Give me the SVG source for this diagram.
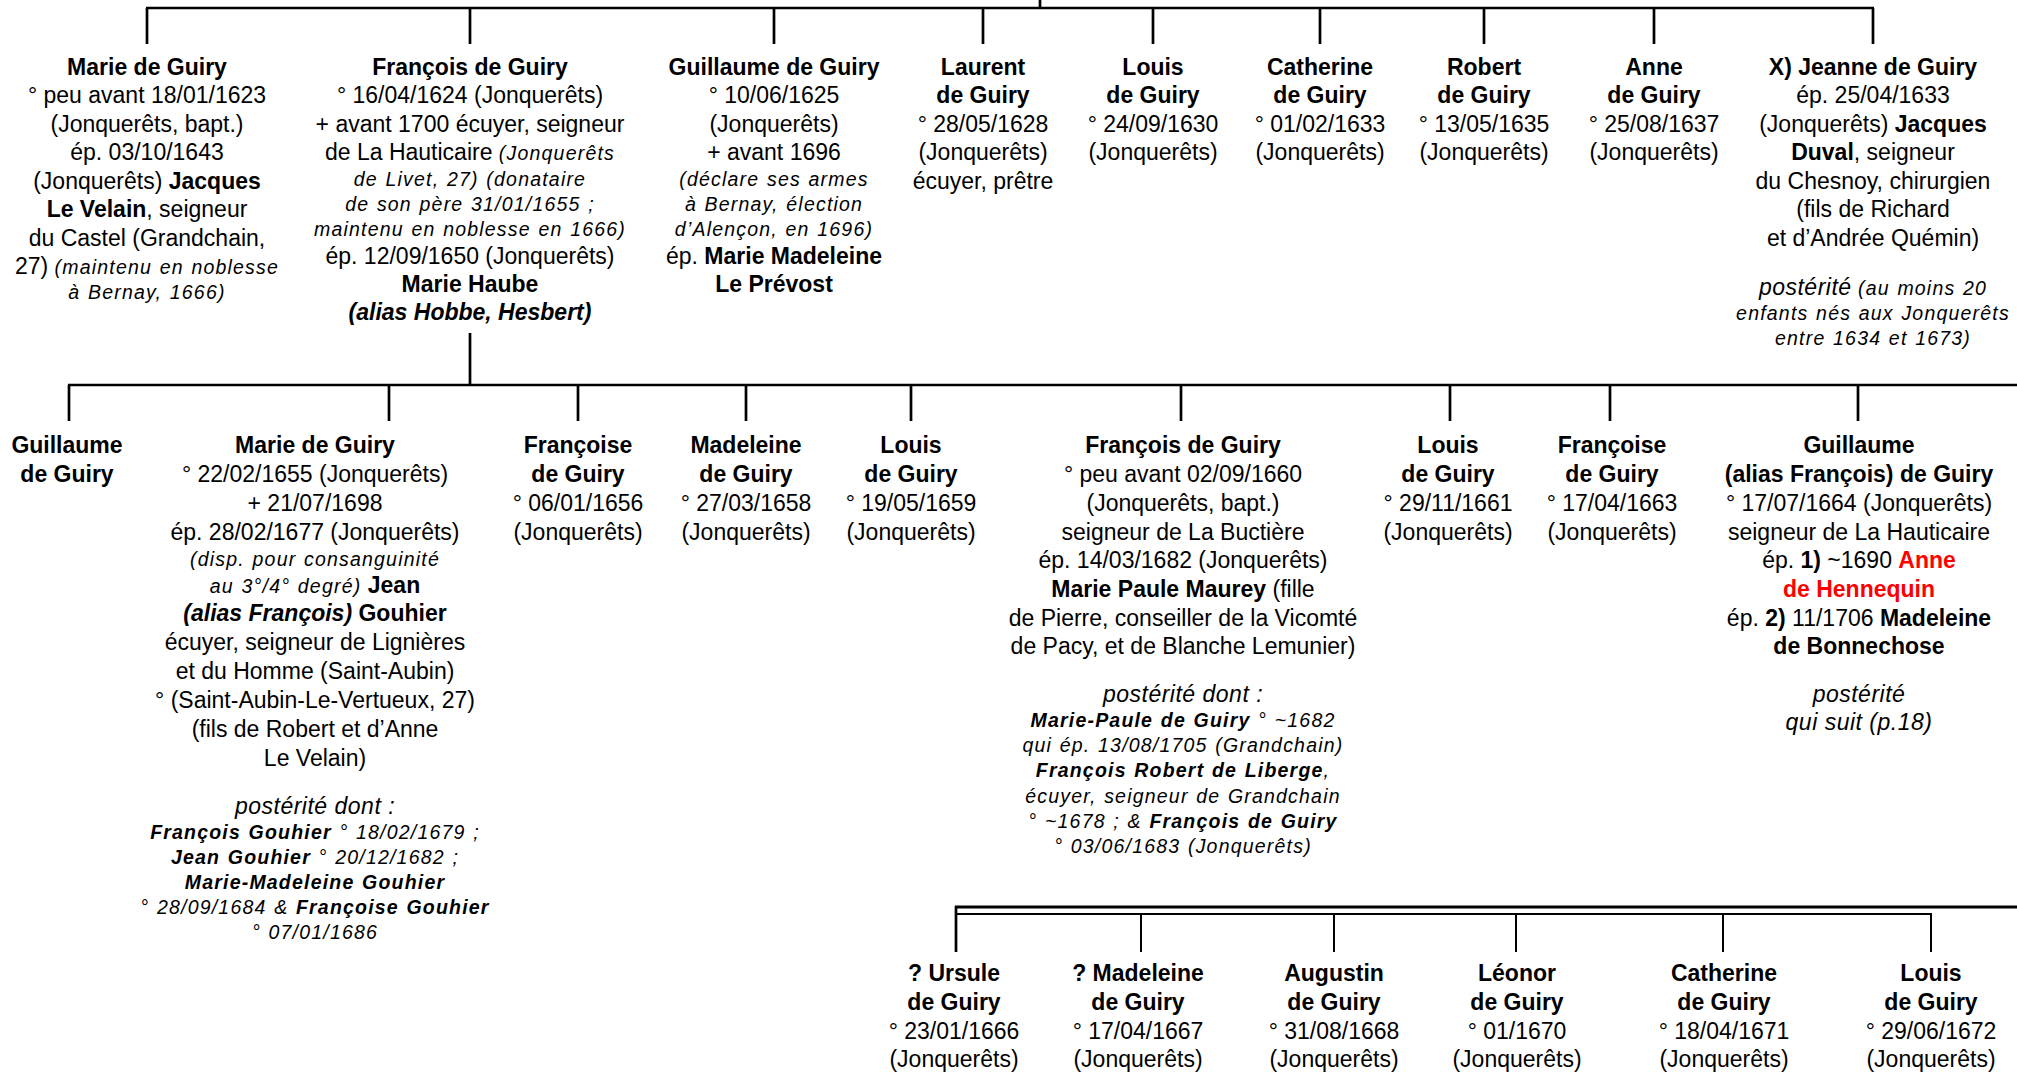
<svg xmlns="http://www.w3.org/2000/svg" width="2017" height="1074" viewBox="0 0 2017 1074">
<style>
text { font-family: "Liberation Sans", Arial, sans-serif; font-size: 23px; fill: #000; text-anchor: middle; }
.b { font-weight: bold; }
.i { font-style: italic; letter-spacing: 0.5px; }
.bi { font-weight: bold; font-style: italic; }
.s { font-size: 19.5px; font-style: italic; letter-spacing: 1.2px; word-spacing: 1px; }
.red { fill: #ff0000; }
.ln { stroke: #000; stroke-width: 2.7; fill: none; }
.ln2 { stroke: #000; stroke-width: 2; fill: none; }
.ln3 { stroke: #000; stroke-width: 3.2; fill: none; }
</style>
<rect width="2017" height="1074" fill="#fff"/>

<g id="connectors">
  <path class="ln" d="M1040 0V8"/>
  <path class="ln" d="M146 8H1874"/>
  <path class="ln" d="M147 8V44M470 8V44M774 8V44M983 8V44M1153 8V44M1320 8V44M1484 8V44M1654 8V44M1873 8V44"/>
  <path class="ln" d="M470 333V385"/>
  <path class="ln" d="M68 385H2017"/>
  <path class="ln" d="M69 385V421M389 385V421M578 385V421M746 385V421M911 385V421M1181 385V421M1450 385V421M1610 385V421M1858 385V421"/>
  <path class="ln3" d="M955 907H2017"/>
  <path class="ln2" d="M956 914H1932"/>
  <path class="ln" d="M956 906V952"/>
  <path class="ln2" d="M1141 914V952M1334 914V952M1516 914V952M1723 914V952M1931 913V952"/>
</g>

<g id="n-marie-1623">
  <text x="147" y="75" class="b">Marie de Guiry</text>
  <text x="147" y="103">° peu avant 18/01/1623</text>
  <text x="147" y="132">(Jonquerêts, bapt.)</text>
  <text x="147" y="160">ép. 03/10/1643</text>
  <text x="147" y="189">(Jonquerêts) <tspan class="b">Jacques</tspan></text>
  <text x="147" y="217"><tspan class="b">Le Velain</tspan>, seigneur</text>
  <text x="147" y="246">du Castel (Grandchain,</text>
  <text x="147" y="274">27) <tspan class="s">(maintenu en noblesse</tspan></text>
  <text x="147" y="299" class="s">à Bernay, 1666)</text>
</g>

<g id="n-francois-1624">
  <text x="470" y="75" class="b">François de Guiry</text>
  <text x="470" y="103">° 16/04/1624 (Jonquerêts)</text>
  <text x="470" y="132">+ avant 1700 écuyer, seigneur</text>
  <text x="470" y="160">de La Hauticaire <tspan class="s">(Jonquerêts</tspan></text>
  <text x="470" y="186" class="s">de Livet, 27) (donataire</text>
  <text x="470" y="211" class="s">de son père 31/01/1655 ;</text>
  <text x="470" y="236" class="s">maintenu en noblesse en 1666)</text>
  <text x="470" y="264">ép. 12/09/1650 (Jonquerêts)</text>
  <text x="470" y="292" class="b">Marie Haube</text>
  <text x="470" y="320" class="bi">(alias Hobbe, Hesbert)</text>
</g>

<g id="n-guillaume-1625">
  <text x="774" y="75" class="b">Guillaume de Guiry</text>
  <text x="774" y="103">° 10/06/1625</text>
  <text x="774" y="132">(Jonquerêts)</text>
  <text x="774" y="160">+ avant 1696</text>
  <text x="774" y="186" class="s">(déclare ses armes</text>
  <text x="774" y="211" class="s">à Bernay, élection</text>
  <text x="774" y="236" class="s">d’Alençon, en 1696)</text>
  <text x="774" y="264">ép. <tspan class="b">Marie Madeleine</tspan></text>
  <text x="774" y="292" class="b">Le Prévost</text>
</g>

<g id="n-laurent-1628">
  <text x="983" y="75" class="b">Laurent</text>
  <text x="983" y="103" class="b">de Guiry</text>
  <text x="983" y="132">° 28/05/1628</text>
  <text x="983" y="160">(Jonquerêts)</text>
  <text x="983" y="189">écuyer, prêtre</text>
</g>

<g id="n-louis-1630">
  <text x="1153" y="75" class="b">Louis</text>
  <text x="1153" y="103" class="b">de Guiry</text>
  <text x="1153" y="132">° 24/09/1630</text>
  <text x="1153" y="160">(Jonquerêts)</text>
</g>

<g id="n-catherine-1633">
  <text x="1320" y="75" class="b">Catherine</text>
  <text x="1320" y="103" class="b">de Guiry</text>
  <text x="1320" y="132">° 01/02/1633</text>
  <text x="1320" y="160">(Jonquerêts)</text>
</g>

<g id="n-robert-1635">
  <text x="1484" y="75" class="b">Robert</text>
  <text x="1484" y="103" class="b">de Guiry</text>
  <text x="1484" y="132">° 13/05/1635</text>
  <text x="1484" y="160">(Jonquerêts)</text>
</g>

<g id="n-anne-1637">
  <text x="1654" y="75" class="b">Anne</text>
  <text x="1654" y="103" class="b">de Guiry</text>
  <text x="1654" y="132">° 25/08/1637</text>
  <text x="1654" y="160">(Jonquerêts)</text>
</g>

<g id="n-jeanne">
  <text x="1873" y="75" class="b">X) Jeanne de Guiry</text>
  <text x="1873" y="103">ép. 25/04/1633</text>
  <text x="1873" y="132">(Jonquerêts) <tspan class="b">Jacques</tspan></text>
  <text x="1873" y="160"><tspan class="b">Duval</tspan>, seigneur</text>
  <text x="1873" y="189">du Chesnoy, chirurgien</text>
  <text x="1873" y="217">(fils de Richard</text>
  <text x="1873" y="246">et d’Andrée Quémin)</text>
  <text x="1873" y="295"><tspan class="i">postérité</tspan> <tspan class="s">(au moins 20</tspan></text>
  <text x="1873" y="320" class="s">enfants nés aux Jonquerêts</text>
  <text x="1873" y="345" class="s">entre 1634 et 1673)</text>
</g>

<g id="n-guillaume-2">
  <text x="67" y="453" class="b">Guillaume</text>
  <text x="67" y="482" class="b">de Guiry</text>
</g>

<g id="n-marie-1655">
  <text x="315" y="453" class="b">Marie de Guiry</text>
  <text x="315" y="482">° 22/02/1655 (Jonquerêts)</text>
  <text x="315" y="511">+ 21/07/1698</text>
  <text x="315" y="540">ép. 28/02/1677 (Jonquerêts)</text>
  <text x="315" y="566" class="s">(disp. pour consanguinité</text>
  <text x="315" y="593"><tspan class="s">au 3°/4° degré)</tspan> <tspan class="b">Jean</tspan></text>
  <text x="315" y="621"><tspan class="bi">(alias François)</tspan> <tspan class="b">Gouhier</tspan></text>
  <text x="315" y="650">écuyer, seigneur de Lignières</text>
  <text x="315" y="679">et du Homme (Saint-Aubin)</text>
  <text x="315" y="708">° (Saint-Aubin-Le-Vertueux, 27)</text>
  <text x="315" y="737">(fils de Robert et d’Anne</text>
  <text x="315" y="766">Le Velain)</text>
  <text x="315" y="814" class="i">postérité dont :</text>
  <text x="315" y="839" class="s"><tspan class="bi">François Gouhier</tspan> ° 18/02/1679 ;</text>
  <text x="315" y="864" class="s"><tspan class="bi">Jean Gouhier</tspan> ° 20/12/1682 ;</text>
  <text x="315" y="889" class="s bi">Marie-Madeleine Gouhier</text>
  <text x="315" y="914" class="s">° 28/09/1684 &amp; <tspan class="bi">Françoise Gouhier</tspan></text>
  <text x="315" y="939" class="s">° 07/01/1686</text>
</g>

<g id="n-francoise-1656">
  <text x="578" y="453" class="b">Françoise</text>
  <text x="578" y="482" class="b">de Guiry</text>
  <text x="578" y="511">° 06/01/1656</text>
  <text x="578" y="540">(Jonquerêts)</text>
</g>

<g id="n-madeleine-1658">
  <text x="746" y="453" class="b">Madeleine</text>
  <text x="746" y="482" class="b">de Guiry</text>
  <text x="746" y="511">° 27/03/1658</text>
  <text x="746" y="540">(Jonquerêts)</text>
</g>

<g id="n-louis-1659">
  <text x="911" y="453" class="b">Louis</text>
  <text x="911" y="482" class="b">de Guiry</text>
  <text x="911" y="511">° 19/05/1659</text>
  <text x="911" y="540">(Jonquerêts)</text>
</g>

<g id="n-francois-1660">
  <text x="1183" y="453" class="b">François de Guiry</text>
  <text x="1183" y="482">° peu avant 02/09/1660</text>
  <text x="1183" y="511">(Jonquerêts, bapt.)</text>
  <text x="1183" y="540">seigneur de La Buctière</text>
  <text x="1183" y="568">ép. 14/03/1682 (Jonquerêts)</text>
  <text x="1183" y="597"><tspan class="b">Marie Paule Maurey</tspan> (fille</text>
  <text x="1183" y="626">de Pierre, conseiller de la Vicomté</text>
  <text x="1183" y="654">de Pacy, et de Blanche Lemunier)</text>
  <text x="1183" y="702" class="i">postérité dont :</text>
  <text x="1183" y="727" class="s"><tspan class="bi">Marie-Paule de Guiry</tspan> ° ~1682</text>
  <text x="1183" y="752" class="s">qui ép. 13/08/1705 (Grandchain)</text>
  <text x="1183" y="777" class="s"><tspan class="bi">François Robert de Liberge</tspan>,</text>
  <text x="1183" y="803" class="s">écuyer, seigneur de Grandchain</text>
  <text x="1183" y="828" class="s">° ~1678 ; &amp; <tspan class="bi">François de Guiry</tspan></text>
  <text x="1183" y="853" class="s">° 03/06/1683 (Jonquerêts)</text>
</g>

<g id="n-louis-1661">
  <text x="1448" y="453" class="b">Louis</text>
  <text x="1448" y="482" class="b">de Guiry</text>
  <text x="1448" y="511">° 29/11/1661</text>
  <text x="1448" y="540">(Jonquerêts)</text>
</g>

<g id="n-francoise-1663">
  <text x="1612" y="453" class="b">Françoise</text>
  <text x="1612" y="482" class="b">de Guiry</text>
  <text x="1612" y="511">° 17/04/1663</text>
  <text x="1612" y="540">(Jonquerêts)</text>
</g>

<g id="n-guillaume-1664">
  <text x="1859" y="453" class="b">Guillaume</text>
  <text x="1859" y="482" class="b">(alias François) de Guiry</text>
  <text x="1859" y="511">° 17/07/1664 (Jonquerêts)</text>
  <text x="1859" y="540">seigneur de La Hauticaire</text>
  <text x="1859" y="568">ép. <tspan class="b">1)</tspan> ~1690 <tspan class="b red">Anne</tspan></text>
  <text x="1859" y="597" class="b red">de Hennequin</text>
  <text x="1859" y="626">ép. <tspan class="b">2)</tspan> 11/1706 <tspan class="b">Madeleine</tspan></text>
  <text x="1859" y="654" class="b">de Bonnechose</text>
  <text x="1859" y="702" class="i">postérité</text>
  <text x="1859" y="730" class="i">qui suit (p.18)</text>
</g>

<g id="n-ursule-1666">
  <text x="954" y="981" class="b">? Ursule</text>
  <text x="954" y="1010" class="b">de Guiry</text>
  <text x="954" y="1039">° 23/01/1666</text>
  <text x="954" y="1067">(Jonquerêts)</text>
</g>

<g id="n-madeleine-1667">
  <text x="1138" y="981" class="b">? Madeleine</text>
  <text x="1138" y="1010" class="b">de Guiry</text>
  <text x="1138" y="1039">° 17/04/1667</text>
  <text x="1138" y="1067">(Jonquerêts)</text>
</g>

<g id="n-augustin-1668">
  <text x="1334" y="981" class="b">Augustin</text>
  <text x="1334" y="1010" class="b">de Guiry</text>
  <text x="1334" y="1039">° 31/08/1668</text>
  <text x="1334" y="1067">(Jonquerêts)</text>
</g>

<g id="n-leonor-1670">
  <text x="1517" y="981" class="b">Léonor</text>
  <text x="1517" y="1010" class="b">de Guiry</text>
  <text x="1517" y="1039">° 01/1670</text>
  <text x="1517" y="1067">(Jonquerêts)</text>
</g>

<g id="n-catherine-1671">
  <text x="1724" y="981" class="b">Catherine</text>
  <text x="1724" y="1010" class="b">de Guiry</text>
  <text x="1724" y="1039">° 18/04/1671</text>
  <text x="1724" y="1067">(Jonquerêts)</text>
</g>

<g id="n-louis-1672">
  <text x="1931" y="981" class="b">Louis</text>
  <text x="1931" y="1010" class="b">de Guiry</text>
  <text x="1931" y="1039">° 29/06/1672</text>
  <text x="1931" y="1067">(Jonquerêts)</text>
</g>
</svg>
